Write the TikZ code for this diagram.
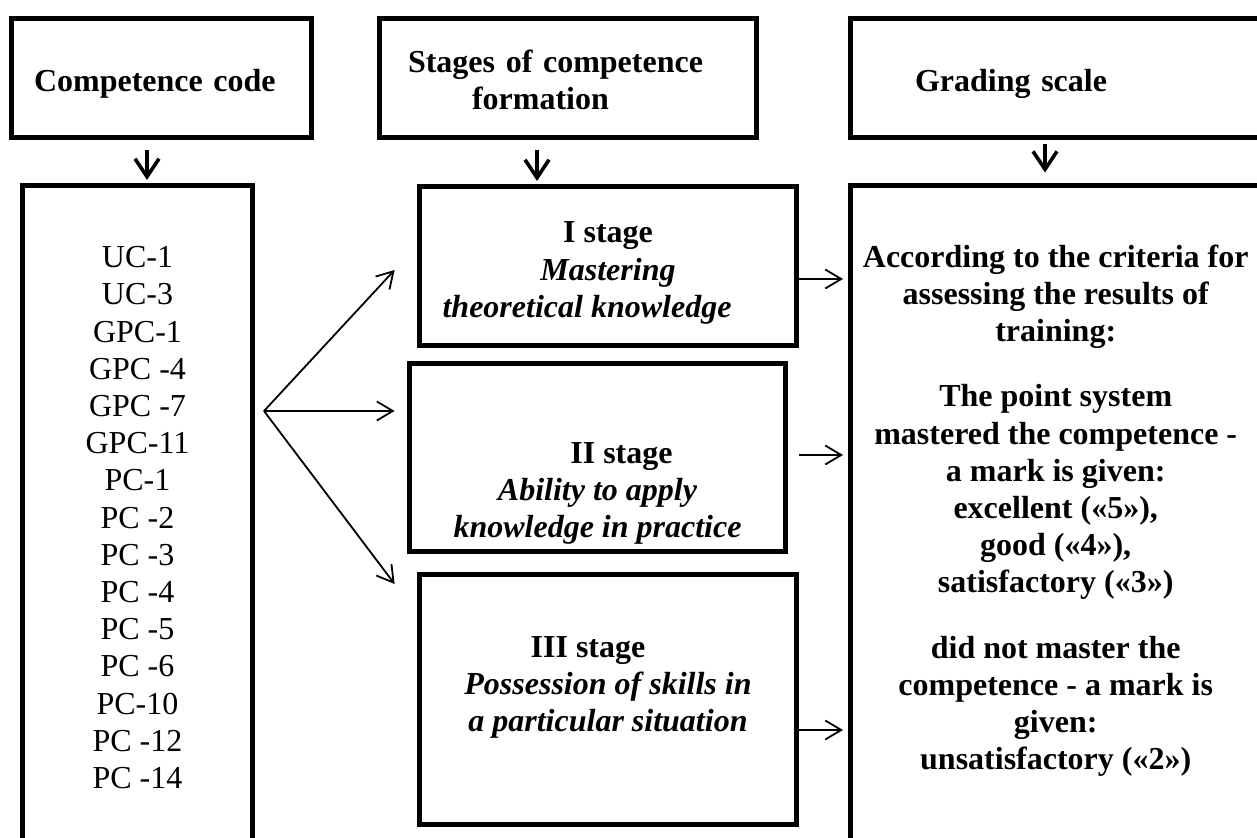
\documentclass[tikz,border=0pt]{standalone}
\usepackage{fontspec}
\setmainfont{Liberation Serif}
\usetikzlibrary{arrows.meta, positioning, calc}
\newcommand{\diagfont}{\fontsize{16pt}{18.6pt}\selectfont}
\newcommand{\padtop}[1]{\rule{0pt}{#1}}
\newcommand{\padbot}[1]{\rule[-#1]{0pt}{#1}}
\tikzset{
  % Box styles
  headbox/.style={rectangle, draw=black, line width=2.4pt, minimum height=59.6pt, font=\diagfont\bfseries, align=left, inner ysep=0pt},
  listbox/.style={rectangle, draw=black, line width=2.4pt, font=\diagfont, align=center},
  stagebox/.style={rectangle, draw=black, line width=2.4pt, font=\diagfont\bfseries, align=center, inner ysep=0pt},
  gradebox/.style={rectangle, draw=black, line width=2.4pt, font=\diagfont\bfseries, align=center},
  % Arrow styles
  downarrow/.style={-{Straight Barb[length=9pt, width=12pt]}, line width=1.8pt},
  fanarrow/.style={-{Straight Barb[length=8pt, width=9.5pt]}, line width=0.9pt}
}

\begin{document}
\begin{tikzpicture}[x=0.5pt, y=-0.5pt]
  \useasboundingbox (0,0) rectangle (1257,838);
  \clip (0,0) rectangle (1257,838);

  % Headers
  \node[headbox, text width=127.5pt, inner xsep=11.3pt, minimum width=150.1pt] (code) at (161.5,78) {\padtop{17.4pt}Competence code};
  \node[headbox, text width=160pt, inner xsep=14.3pt, minimum width=188.6pt] (stages) at (568,78) {\padtop{13pt}Stages of competence\\\hspace*{2em}formation};
  \node[headbox, text width=140.7pt, inner xsep=32.3pt, minimum width=205.3pt] (gradehead) at (1055.7,78) {\padtop{17.4pt}Grading scale};

  % Competence codes
  \node[listbox, minimum width=115.1pt, minimum height=332.3pt] (codes) at (137.5,517.7) {UC-1\\UC-3\\GPC-1\\GPC -4\\GPC -7\\GPC-11\\PC-1\\PC -2\\PC -3\\PC -4\\PC -5\\PC -6\\PC-10\\PC -12\\PC -14};

  % Stages
  \node[stagebox, minimum width=188.6pt, minimum height=79.6pt] (stage1) at (608,266) {\padtop{17.6pt}I stage\\\textit{Mastering}\\\textit{theoretical knowledge}\hspace*{21pt}};
  \node[stagebox, minimum width=188.1pt, minimum height=94.1pt] (stage2) at (597.5,457.5) {\padtop{46.6pt}\hspace*{24pt}II stage\\\textit{Ability to apply}\\\textit{knowledge in practice}};
  \node[stagebox, minimum width=188.6pt, minimum height=125.1pt] (stage3) at (608,699.5) {III stage\hspace*{20pt}\\\textit{Possession of skills in}\\\textit{a particular situation}\padbot{15.5pt}};

  % Grading
  \node[gradebox, minimum width=205.3pt, minimum height=332.3pt] (grading) at (1055.7,517.7) {According to the criteria for\\assessing the results of\\training:\\[14pt]The point system\\mastered the competence -\\a mark is given:\\excellent («5»),\\good («4»),\\satisfactory («3»)\\[14pt]did not master the\\competence - a mark is\\given:\\unsatisfactory («2»)\padbot{10.5pt}};

  % Arrows
  \coordinate (a1) at ([xshift=-7.25pt]code.south);
  \coordinate (a2) at ([xshift=-15.5pt]stages.south);
  \coordinate (a3) at ([xshift=-5.35pt]gradehead.south);
  \draw[downarrow, shorten <=5.2pt, shorten >=1.5pt] (a1) -- (a1 |- codes.north);
  \draw[downarrow, shorten <=5.2pt, shorten >=1.5pt] (a2) -- (a2 |- stage1.north);
  \draw[downarrow, shorten <=2.2pt, shorten >=5.2pt] (a3) -- (a3 |- grading.north);

  \coordinate (fan) at (264,411);
  \coordinate (f1) at ([xshift=-11.2pt, yshift=-2pt]stage1.west);
  \coordinate (f2) at (fan -| f1);
  \coordinate (f3) at ([xshift=-11.2pt, yshift=57.75pt]stage3.west);
  \draw[fanarrow] (fan) -- (f1);
  \draw[fanarrow] (fan) -- (f2);
  \draw[fanarrow] (fan) -- (f3);

  \coordinate (r1) at ([yshift=-6.5pt]stage1.east);
  \coordinate (r2) at ([xshift=5.7pt, yshift=1.25pt]stage2.east);
  \coordinate (r3) at ([yshift=-15.25pt]stage3.east);
  \draw[fanarrow, shorten >=2.5pt] (r1) -- (r1 -| grading.west);
  \draw[fanarrow, shorten >=2.5pt] (r2) -- (r2 -| grading.west);
  \draw[fanarrow, shorten >=2.5pt] (r3) -- (r3 -| grading.west);
\end{tikzpicture}
\end{document}
